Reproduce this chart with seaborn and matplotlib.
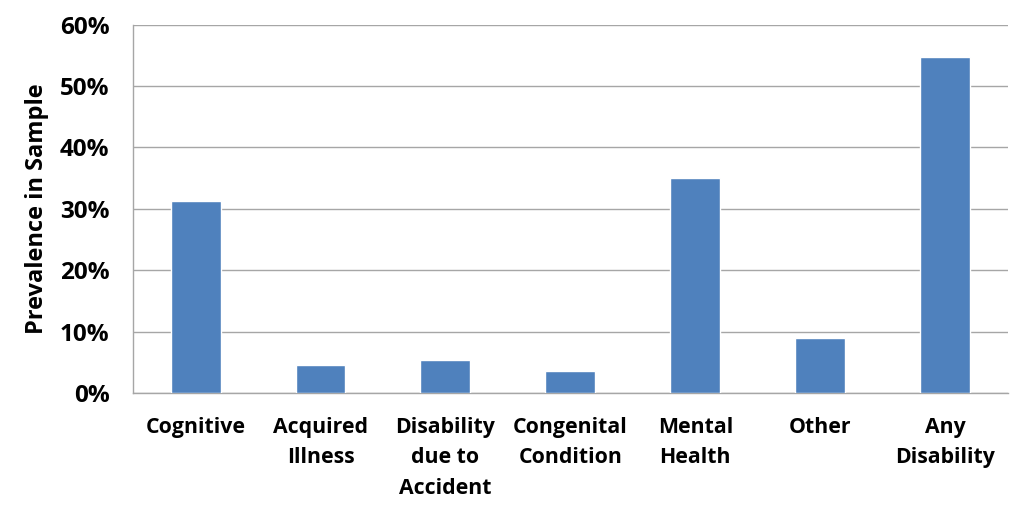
import matplotlib
matplotlib.use("Agg")
import matplotlib.pyplot as plt
import seaborn as sns
import pandas as pd
import numpy as np
from matplotlib.ticker import PercentFormatter, FixedLocator

categories = ["Cognitive", "Acquired\nIllness", "Disability\ndue to\nAccident",
              "Congenital\nCondition", "Mental\nHealth", "Other", "Any\nDisability"]
values = [31.3, 4.6, 5.4, 3.6, 35.1, 9.0, 54.8]
y_ticks = [0, 10, 20, 30, 40, 50, 60]

sns.set_theme(style="white")
plt.rcParams['font.family'] = ['Open Sans', 'DejaVu Sans']

df = pd.DataFrame({"cat": categories, "val": values})

fig = plt.figure(figsize=(10.24, 5.12), dpi=100)
ax = fig.add_axes([0.130, 0.232, 0.854, 0.720])
sns.barplot(data=df, x="cat", y="val", color="#4F81BD", saturation=1, width=0.4, ax=ax, zorder=3)

ax.set_ylim(0, 60)
ax.set_xlim(-0.5, len(categories) - 0.5)
ax.yaxis.set_major_locator(FixedLocator(y_ticks))
ax.yaxis.set_major_formatter(PercentFormatter(decimals=0))
ax.grid(axis="y", color="#A6A6A6", linewidth=1, zorder=0)
ax.set_axisbelow(True)

for s in ["top", "right"]:
    ax.spines[s].set_visible(False)
for s in ["left", "bottom"]:
    ax.spines[s].set_color("#A6A6A6")
    ax.spines[s].set_linewidth(1)

ax.set_xticks(np.arange(-0.5, len(categories)), minor=True)
ax.tick_params(axis="x", which="major", length=0, pad=17, labelsize=15.3)
ax.tick_params(axis="x", which="minor", length=9, color="#A6A6A6", width=1, direction="out")
ax.tick_params(axis="y", which="major", length=8, color="#A6A6A6", width=1, direction="out", labelsize=17.5, pad=9)
for lab in ax.get_xticklabels():
    lab.set_fontweight("bold")
    lab.set_color("black")
    lab.set_linespacing(1.6)
for lab in ax.get_yticklabels():
    lab.set_fontweight("bold")
    lab.set_color("black")
ax.set_xlabel("")
ax.set_ylabel("Prevalence in Sample", fontsize=17, fontweight="bold", color="black", labelpad=8)

fig.savefig("out.png", dpi=100)
